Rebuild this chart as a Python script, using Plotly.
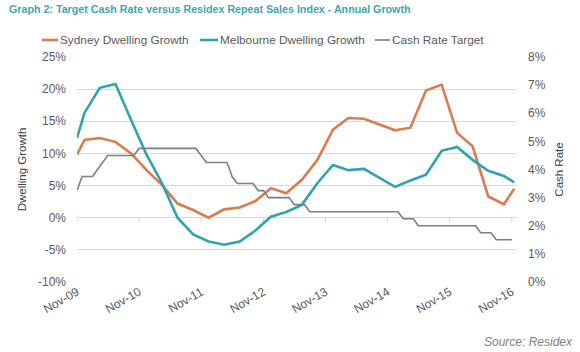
import plotly.graph_objects as go

# ---------------- data ----------------
growth_dates = [
    "2009-11-01", "2009-12-15",
    "2010-03-15", "2010-06-15", "2010-09-15", "2010-12-15",
    "2011-03-15", "2011-06-15", "2011-09-15", "2011-12-15",
    "2012-03-15", "2012-06-15", "2012-09-15", "2012-12-15",
    "2013-03-15", "2013-06-15", "2013-09-15", "2013-12-15",
    "2014-03-15", "2014-06-15", "2014-09-15", "2014-12-15",
    "2015-03-15", "2015-06-15", "2015-09-15", "2015-12-15",
    "2016-03-15", "2016-06-15", "2016-09-15", "2016-11-15",
]
sydney = [9.8, 12.1,
          12.4, 11.8, 10.0, 7.4,
          5.1, 2.2, 1.2, 0.0,
          1.3, 1.6, 2.6, 4.6,
          3.8, 5.9, 9.0, 13.7,
          15.5, 15.4, 14.5, 13.6,
          14.0, 19.8, 20.7, 13.2,
          11.1, 3.3, 2.1, 4.5]
melbourne = [12.4, 16.3,
             20.2, 20.8, 15.2, 9.8,
             5.4, 0.0, -2.6, -3.7,
             -4.2, -3.7, -2.0, 0.15,
             0.9, 2.0, 5.4, 8.2,
             7.4, 7.6, 6.2, 4.8,
             5.8, 6.7, 10.4, 11.0,
             9.0, 7.3, 6.5, 5.5]

cash_dates = [
    "2009-11-01", "2009-12-01",
    "2010-01-01", "2010-02-01", "2010-03-01", "2010-04-01", "2010-05-01", "2010-06-01",
    "2010-07-01", "2010-08-01", "2010-09-01", "2010-10-01", "2010-11-01", "2010-12-01",
    "2011-01-01", "2011-02-01", "2011-03-01", "2011-04-01", "2011-05-01", "2011-06-01",
    "2011-07-01", "2011-08-01", "2011-09-01", "2011-10-01", "2011-11-01", "2011-12-01",
    "2012-01-01", "2012-02-01", "2012-03-01", "2012-04-01", "2012-05-01", "2012-06-01",
    "2012-07-01", "2012-08-01", "2012-09-01", "2012-10-01", "2012-11-01", "2012-12-01",
    "2013-01-01", "2013-02-01", "2013-03-01", "2013-04-01", "2013-05-01", "2013-06-01",
    "2013-07-01", "2013-08-01", "2013-09-01", "2013-10-01", "2013-11-01", "2013-12-01",
    "2014-01-01", "2014-02-01", "2014-03-01", "2014-04-01", "2014-05-01", "2014-06-01",
    "2014-07-01", "2014-08-01", "2014-09-01", "2014-10-01", "2014-11-01", "2014-12-01",
    "2015-01-01", "2015-02-01", "2015-03-01", "2015-04-01", "2015-05-01", "2015-06-01",
    "2015-07-01", "2015-08-01", "2015-09-01", "2015-10-01", "2015-11-01", "2015-12-01",
    "2016-01-01", "2016-02-01", "2016-03-01", "2016-04-01", "2016-05-01", "2016-06-01",
    "2016-07-01", "2016-08-01", "2016-09-01", "2016-10-01", "2016-11-01",
]
cash_rate = [
    3.25, 3.75,
    3.75, 3.75, 4.0, 4.25, 4.5, 4.5, 4.5, 4.5, 4.5, 4.5, 4.75, 4.75,
    4.75, 4.75, 4.75, 4.75, 4.75, 4.75, 4.75, 4.75, 4.75, 4.75, 4.5, 4.25,
    4.25, 4.25, 4.25, 4.25, 3.75, 3.5, 3.5, 3.5, 3.5, 3.25, 3.25, 3.0,
    3.0, 3.0, 3.0, 3.0, 2.75, 2.75, 2.75, 2.5, 2.5, 2.5, 2.5, 2.5,
    2.5, 2.5, 2.5, 2.5, 2.5, 2.5, 2.5, 2.5, 2.5, 2.5, 2.5, 2.5,
    2.5, 2.25, 2.25, 2.25, 2.0, 2.0, 2.0, 2.0, 2.0, 2.0, 2.0, 2.0,
    2.0, 2.0, 2.0, 2.0, 1.75, 1.75, 1.75, 1.5, 1.5, 1.5, 1.5,
]

x_tick_dates = ["2009-11-01", "2010-11-01", "2011-11-01", "2012-11-01",
                "2013-11-01", "2014-11-01", "2015-11-01", "2016-11-01"]
x_tick_labels = ["Nov-09", "Nov-10", "Nov-11", "Nov-12",
                 "Nov-13", "Nov-14", "Nov-15", "Nov-16"]
left_ticks = [-10, -5, 0, 5, 10, 15, 20, 25]
left_labels = ["-10%", "-5%", "0%", "5%", "10%", "15%", "20%", "25%"]
right_ticks = [0, 1, 2, 3, 4, 5, 6, 7, 8]
right_labels = ["0%", "1%", "2%", "3%", "4%", "5%", "6%", "7%", "8%"]

series_names = ["Sydney Dwelling Growth", "Melbourne Dwelling Growth", "Cash Rate Target"]
colors = ["#dd7a50", "#2fa2b4", "#7f7f7f"]

FONT = "Arial, Liberation Sans, sans-serif"
TXT = "#595959"

fig = go.Figure()
fig.add_trace(go.Scatter(x=growth_dates, y=sydney, name=series_names[0], mode="lines",
                         line=dict(color=colors[0], width=2.6)))
fig.add_trace(go.Scatter(x=growth_dates, y=melbourne, name=series_names[1], mode="lines",
                         line=dict(color=colors[1], width=2.6)))
fig.add_trace(go.Scatter(x=cash_dates, y=cash_rate, name=series_names[2], mode="lines",
                         line=dict(color=colors[2], width=1.6), yaxis="y2"))

# small tick marks on the 0% axis line
for d in x_tick_dates:
    fig.add_shape(type="line", xref="x", yref="y", x0=d, x1=d, y0=0, y1=-0.7,
                  line=dict(color="#d0d0d0", width=1), layer="below")

# manual legend
legend_x = [42, 200, 375]
legend_w = [16, 18, 15]
for i, name in enumerate(series_names):
    fig.add_shape(type="line", xref="paper", yref="paper",
                  x0=(legend_x[i] - 77) / 440, x1=(legend_x[i] + legend_w[i] - 77) / 440,
                  y0=(282 - 40) / 225, y1=(282 - 40) / 225,
                  line=dict(color=colors[i], width=2.6 if i < 2 else 1.6))
    fig.add_annotation(text=name, xref="paper", yref="paper",
                       x=(legend_x[i] + legend_w[i] - 77) / 440, y=(282 - 40) / 225,
                       xanchor="left", yanchor="middle", showarrow=False,
                       font=dict(family=FONT, size=11.8, color=TXT))

# title
fig.add_annotation(text="<b>Graph 2: Target Cash Rate versus Residex Repeat Sales Index - Annual Growth</b>",
                   xref="paper", yref="paper", x=(7 - 77) / 440, y=(282 - 9) / 225,
                   xanchor="left", yanchor="middle", showarrow=False,
                   font=dict(family=FONT, size=10.7, color="#3fa4b4"))
# source
fig.add_annotation(text="<i>Source: Residex</i>", xref="paper", yref="paper",
                   x=(575 - 77) / 440, y=(282 - 342) / 225,
                   xanchor="right", yanchor="middle", showarrow=False,
                   font=dict(family=FONT, size=12, color="#7f7f7f"))

fig.update_layout(
    width=580, height=352,
    margin=dict(l=77, r=63, t=57, b=70),
    paper_bgcolor="white", plot_bgcolor="white",
    showlegend=False,
    font=dict(family=FONT, size=12, color=TXT),
    xaxis=dict(type="date", range=["2009-11-01", "2016-12-01"],
               tickvals=x_tick_dates, ticktext=x_tick_labels, tickangle=-30,
               showgrid=False, zeroline=False, showline=False, ticks="",
               tickfont=dict(size=12, color=TXT)),
    yaxis=dict(range=[-10, 25], tickvals=left_ticks, ticktext=left_labels,
               showgrid=True, gridcolor="#d9d9d9", gridwidth=1.3, zeroline=False,
               ticks="", ticklabelstandoff=10,
               title=dict(text="Dwelling Growth", standoff=8,
                          font=dict(size=11.5, color="#404040")),
               tickfont=dict(size=12, color=TXT)),
    yaxis2=dict(range=[0, 8], tickvals=right_ticks, ticktext=right_labels,
                overlaying="y", side="right", showgrid=False, zeroline=False,
                ticks="", ticklabelstandoff=10,
                title=dict(text="Cash Rate", standoff=10,
                           font=dict(size=11.5, color="#404040")),
                tickfont=dict(size=12, color=TXT)),
)

fig.write_html("out.html")
